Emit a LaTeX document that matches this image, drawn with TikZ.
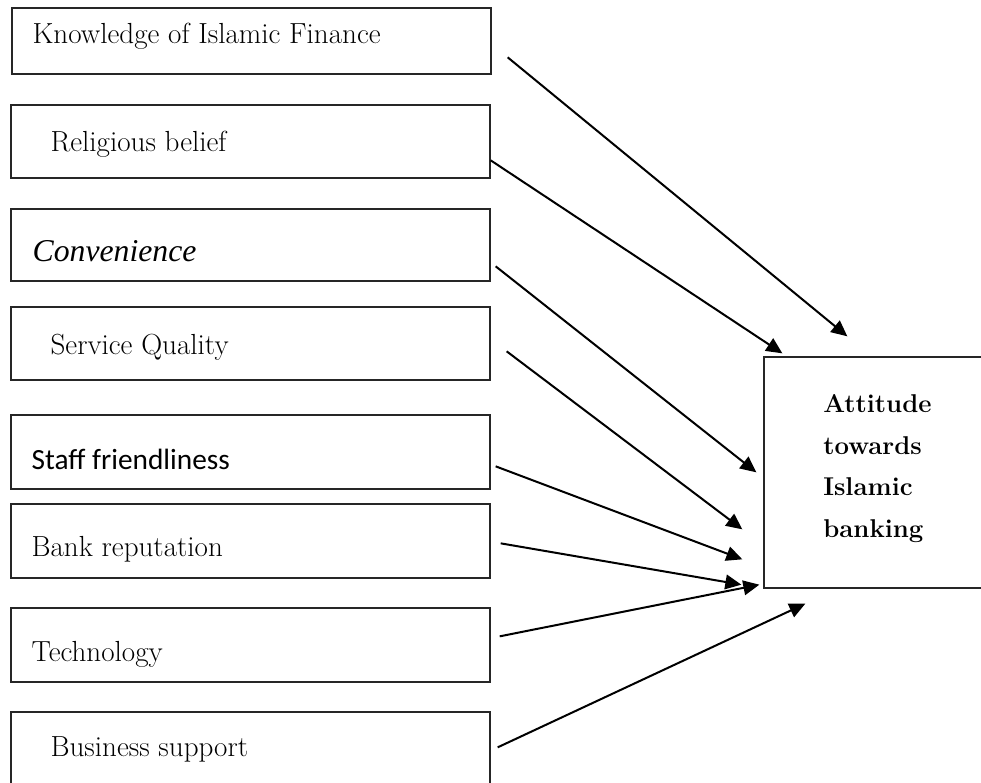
\documentclass[tikz,border=0pt]{standalone}
\usepackage{fontspec}
\usetikzlibrary{arrows.meta,fit}
\newfontfamily\calibrifont{Carlito}
\newfontfamily\timesfont{Liberation Serif}
\tikzset{
  box/.style={draw=black!85, line width=1pt, inner sep=0pt},
  lbl/.style={anchor=base west, inner sep=0pt, font=\fontsize{21.8}{26}\selectfont},
  arr/.style={line width=1.5pt, -{Triangle[length=12pt, width=11pt]}}
}

\begin{document}
\begin{tikzpicture}[x=0.75pt, y=-0.75pt]
			\useasboundingbox (0,0) rectangle (981,782);
			% factor boxes
			\node [box, fit={(12,8) (491,74)}] (know) {};
			\node [box, fit={(11,105) (490,178)}] (relig) {};
			\node [box, fit={(11,209) (490,281)}] (conv) {};
			\node [box, fit={(11,307) (490,380)}] (serv) {};
			\node [box, fit={(11,415) (490,489)}] (staff) {};
			\node [box, fit={(11,504) (490,578)}] (bank) {};
			\node [box, fit={(11,608) (490,682)}] (tech) {};
			\node [box, fit={(11,712) (490,795)}] (bus) {};
			% outcome box
			\node [box, fit={(764,357) (995,588)}] (att) {};
			% labels
			\node [lbl] (knowtxt) at ([shift={(21,36)}]know.north west) {Knowledge of Islamic Finance};
			\node [lbl] (religtxt) at ([shift={(40,47)}]relig.north west) {Religious belief};
			\node [lbl, font=\timesfont\itshape\fontsize{23.8}{28}\selectfont] (convtxt) at ([shift={(22,53)}]conv.north west) {Convenience};
			\node [lbl] (servtxt) at ([shift={(40,48)}]serv.north west) {Service Quality};
			\node [lbl, font=\calibrifont\fontsize{22}{26}\selectfont] (stafftxt) at ([shift={(21,55)}]staff.north west) {Staff friendliness};
			\node [lbl] (banktxt) at ([shift={(21,53)}]bank.north west) {Bank reputation};
			\node [lbl] (techtxt) at ([shift={(21,54)}]tech.north west) {Technology};
			\node [lbl] (bustxt) at ([shift={(40,45)}]bus.north west) {Business support};
			\node [anchor=north west, inner sep=0pt, align=left, font=\bfseries\fontsize{19.3}{31.3}\selectfont] (atttxt) at (823,394) {Attitude\\towards\\Islamic\\banking};
			% arrows
			\draw [arr] ([shift={(16,50)}]know.north east) -- ([shift={(84,-20)}]att.north west);
			\draw [arr] ([shift={(0,56)}]relig.north east) -- ([shift={(19,-3)}]att.north west);
			\draw [arr] ([shift={(5,58)}]conv.north east) -- ([shift={(-7,116)}]att.north west);
			\draw [arr] ([shift={(16,45)}]serv.north east) -- ([shift={(-21,173)}]att.north west);
			\draw [arr] ([shift={(5,52)}]staff.north east) -- ([shift={(-21,203)}]att.north west);
			\draw [arr] ([shift={(10,40)}]bank.north east) -- ([shift={(-22,-4)}]att.south west);
			\draw [arr] ([shift={(9,29)}]tech.north east) -- ([shift={(-4,-4)}]att.south west);
			\draw [arr] ([shift={(7,36)}]bus.north east) -- ([shift={(42,15)}]att.south west);
		\end{tikzpicture}
\end{document}
